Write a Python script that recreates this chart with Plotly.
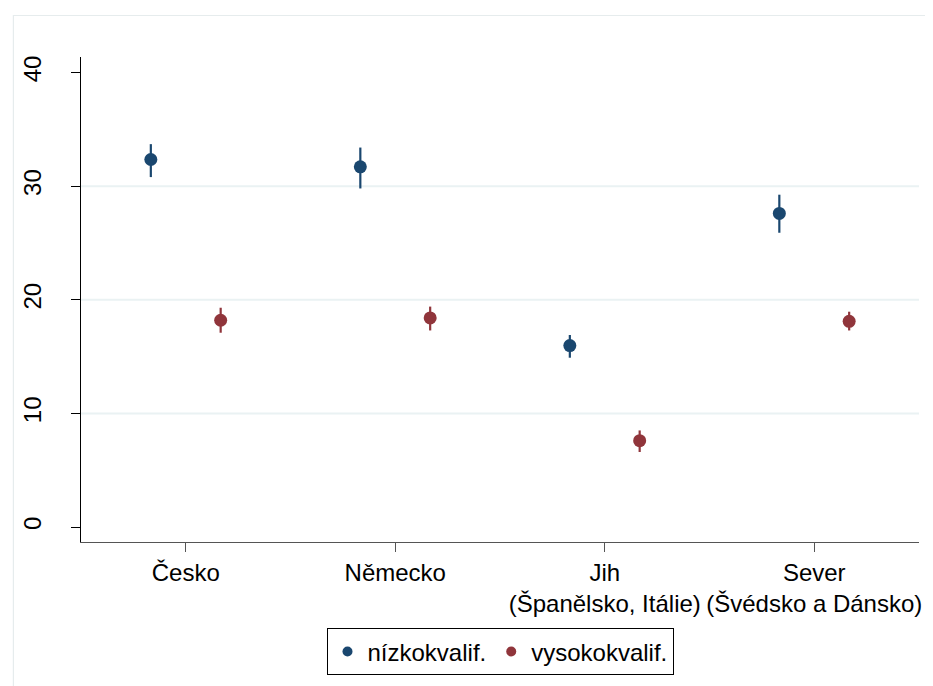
import plotly.graph_objects as go

categories = ["Česko", "Německo", "Jih<br>(Španělsko, Itálie)", "Sever<br>(Švédsko a Dánsko)"]
series_names = ["nízkokvalif.", "vysokokvalif."]
low_mean = [32.35, 31.7, 15.97, 27.6]
low_lo = [30.8, 29.8, 14.9, 25.9]
low_hi = [33.7, 33.4, 16.9, 29.25]
high_mean = [18.2, 18.4, 7.6, 18.1]
high_lo = [17.1, 17.3, 6.6, 17.3]
high_hi = [19.3, 19.4, 8.5, 18.95]
y_ticks = [0, 10, 20, 30, 40]
grid_values = [10, 20, 30]

colors = ["#1a476f", "#90353b"]
dodge = 1 / 6
FONT = "Liberation Sans, Arial, sans-serif"
FS = 24

# page body has an 8px margin, so the figure is sized/positioned to compensate
OFF = 8
W, H = 933 - OFF, 686 - OFF
ml, mr, mt, mb = 79 - OFF, 11, 57 - OFF, 138

pos = list(range(1, len(categories) + 1))

fig = go.Figure()
for k, (name, m, lo, hi) in enumerate([
    (series_names[0], low_mean, low_lo, low_hi),
    (series_names[1], high_mean, high_lo, high_hi),
]):
    off = -dodge if k == 0 else dodge
    fig.add_trace(go.Scatter(
        x=[p + off for p in pos], y=m, mode="markers", name=name,
        marker=dict(color=colors[k], size=13),
        error_y=dict(type="data", symmetric=False,
                     array=[h - v for h, v in zip(hi, m)],
                     arrayminus=[v - l for v, l in zip(m, lo)],
                     color=colors[k], thickness=2.2, width=0),
        showlegend=False,
    ))
    # legend entry
    fig.add_trace(go.Scatter(
        x=[None], y=[None], mode="markers", name=name,
        marker=dict(color=colors[k], size=10),
    ))

shapes = []
for g in grid_values:
    shapes.append(dict(type="line", xref="paper", yref="y", x0=0, x1=1, y0=g, y1=g,
                       line=dict(color="#eaf2f3", width=2), layer="below"))
pw = W - ml - mr
ph = H - mt - mb
shapes.append(dict(type="rect", xref="paper", yref="paper",
                   x0=(11 - OFF - ml) / pw, x1=(W + 20 - ml) / pw,
                   y0=-(H + 20 - mt - ph) / ph, y1=1 + (mt - (15 - OFF)) / ph,
                   line=dict(color="#e6eced", width=1.2), layer="below"))

fig.update_layout(
    width=W, height=H,
    margin=dict(l=ml, r=mr, t=mt, b=mb),
    paper_bgcolor="white", plot_bgcolor="white",
    font=dict(family=FONT, size=FS, color="black"),
    shapes=shapes,
    showlegend=True,
    legend=dict(orientation="h", x=0.5, xanchor="center", y=-0.178, yanchor="top",
                bordercolor="black", borderwidth=1, bgcolor="white",
                font=dict(size=FS), itemwidth=30, tracegroupgap=0),
    xaxis=dict(range=[0.5, 4.5], tickmode="array", tickvals=pos, ticktext=categories,
               showgrid=False, zeroline=False, showline=True, linecolor="#555555",
               linewidth=1.3, ticks="outside", ticklen=9, tickcolor="#555555",
               tickwidth=1.3, tickfont=dict(size=FS)),
    yaxis=dict(range=[-1.32, 41.37], tickmode="array", tickvals=y_ticks,
               showgrid=False, zeroline=False, showline=True, linecolor="black",
               linewidth=1.3, ticks="outside", ticklen=9, tickcolor="black",
               tickwidth=1.3, tickangle=-90, tickfont=dict(size=FS),
               ticklabelstandoff=20),
)

fig.write_html("out.html")
